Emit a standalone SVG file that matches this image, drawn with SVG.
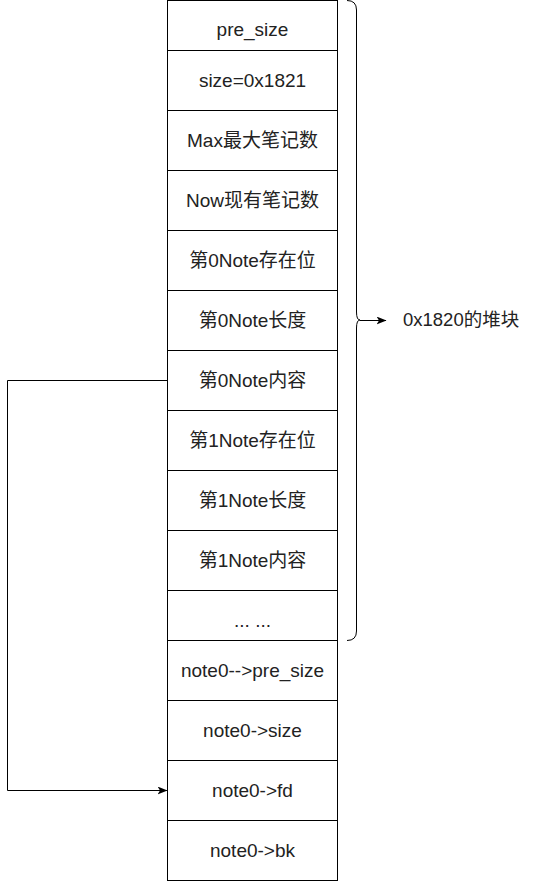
<svg xmlns="http://www.w3.org/2000/svg" width="539" height="882" viewBox="0 0 539 882">
<style>
.cell{fill:#ffffff;stroke:#000000;stroke-width:1}
.t{font-family:"Liberation Sans","Noto Sans CJK SC",Arial,sans-serif;font-size:19px;fill:#222222;text-anchor:middle}
.lbl{font-family:"Liberation Sans","Noto Sans CJK SC",Arial,sans-serif;font-size:18.5px;fill:#222222}
.edge{fill:none;stroke:#000000;stroke-width:1}
</style>
<defs>
<marker id="arr" viewBox="0 0 10 8" refX="9.5" refY="4" markerWidth="10" markerHeight="8" markerUnits="userSpaceOnUse" orient="auto">
<path d="M0,0 L10,4 L0,8 L2.5,4 Z" fill="#000"/>
</marker>
</defs>
<rect width="539" height="882" fill="#ffffff"/>
<g id="n1"><rect class="cell" x="167.5" y="0.5" width="170" height="50"/><text class="t" x="252.5" y="36">pre_size</text></g>
<g id="n2"><rect class="cell" x="167.5" y="50.5" width="170" height="60"/><text class="t" x="252.5" y="87">size=0x1821</text></g>
<g id="n3"><rect class="cell" x="167.5" y="110.5" width="170" height="60"/><text class="t" x="252.5" y="147">Max最大笔记数</text></g>
<g id="n4"><rect class="cell" x="167.5" y="170.5" width="170" height="60"/><text class="t" x="252.5" y="207">Now现有笔记数</text></g>
<g id="n5"><rect class="cell" x="167.5" y="230.5" width="170" height="60"/><text class="t" x="252.5" y="267">第0Note存在位</text></g>
<g id="n6"><rect class="cell" x="167.5" y="290.5" width="170" height="60"/><text class="t" x="252.5" y="327">第0Note长度</text></g>
<g id="n7"><rect class="cell" x="167.5" y="350.5" width="170" height="60"/><text class="t" x="252.5" y="387">第0Note内容</text></g>
<g id="n8"><rect class="cell" x="167.5" y="410.5" width="170" height="60"/><text class="t" x="252.5" y="447">第1Note存在位</text></g>
<g id="n9"><rect class="cell" x="167.5" y="470.5" width="170" height="60"/><text class="t" x="252.5" y="507">第1Note长度</text></g>
<g id="n10"><rect class="cell" x="167.5" y="530.5" width="170" height="60"/><text class="t" x="252.5" y="567">第1Note内容</text></g>
<g id="n11"><rect class="cell" x="167.5" y="590.5" width="170" height="50"/><text class="t" x="252.5" y="627">... ...</text></g>
<g id="n12"><rect class="cell" x="167.5" y="640.5" width="170" height="60"/><text class="t" x="252.5" y="677">note0--&gt;pre_size</text></g>
<g id="n13"><rect class="cell" x="167.5" y="700.5" width="170" height="60"/><text class="t" x="252.5" y="737">note0-&gt;size</text></g>
<g id="n14"><rect class="cell" x="167.5" y="760.5" width="170" height="60"/><text class="t" x="252.5" y="797">note0-&gt;fd</text></g>
<g id="n15"><rect class="cell" x="167.5" y="820.5" width="170" height="60"/><text class="t" x="252.5" y="857">note0-&gt;bk</text></g>
<g id="brace"><path class="edge" d="M347,0.5 Q356.5,0.5 356.5,10 L356.5,312 Q356.5,320 360,320 Q356.5,320 356.5,328 L356.5,631 Q356.5,640.5 347,640.5"/></g>
<g id="label"><text class="lbl" x="403" y="326">0x1820的堆块</text></g>
<g id="connectors">
<path class="edge" d="M360,320.5 L386,320.5" marker-end="url(#arr)"/>
<path class="edge" d="M167,380.5 L7.5,380.5 L7.5,790.5 L167,790.5" marker-end="url(#arr)"/>
</g>
</svg>
